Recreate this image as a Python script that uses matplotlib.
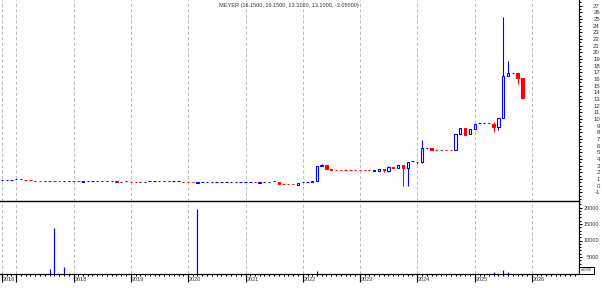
import matplotlib
matplotlib.use("Agg")
import matplotlib.pyplot as plt
import matplotlib.dates as mdates
import matplotlib.transforms as mtransforms
from matplotlib.ticker import FixedLocator, MultipleLocator
from matplotlib.patches import Rectangle
import pandas as pd

plt.rcParams["font.family"] = ["Liberation Sans", "DejaVu Sans"]
plt.rcParams["lines.scale_dashes"] = False
plt.rcParams["axes.unicode_minus"] = False

title = "MEYER (16.1500, 16.1500, 13.3100, 13.1000, -3.05000)"
dates = pd.date_range("2016-10-01", periods=110, freq="MS")

opens = [0.80, 0.80, 0.80, 0.95, 0.95, 0.80, 0.80, 0.66, 0.66, 0.68,
         0.66, 0.66, 0.66, 0.68, 0.68, 0.66, 0.66, 0.48, 0.68, 0.68,
         0.68, 0.68, 0.68, 0.68, 0.68, 0.50, 0.72, 0.50, 0.50, 0.52,
         0.60, 0.66, 0.66, 0.66, 0.66, 0.66, 0.66, 0.66, 0.50, 0.50,
         0.50, 0.38, 0.50, 0.50, 0.50, 0.50, 0.50, 0.50, 0.50, 0.50,
         0.50, 0.50, 0.50, 0.48, 0.36, 0.50, 0.50, 0.66, 0.60, 0.20,
         0.20, 0.20, 0.15, 0.50, 0.50, 0.50, 0.66, 2.90, 3.05, 2.45,
         2.30, 2.30, 2.30, 2.30, 2.30, 2.30, 2.30, 2.30, 2.15, 2.15,
         2.45, 2.25, 2.85, 2.70, 3.05, 2.60, 3.65, 3.55, 3.50, 5.65,
         5.60, 5.30, 5.30, 5.30, 5.30, 5.30, 7.70, 8.60, 7.70, 8.45,
         9.35, 9.35, 9.35, 9.25, 8.75, 10.10, 16.50, 16.90, 16.85, 16.15]
highs = [0.80, 0.80, 0.80, 0.95, 0.95, 0.80, 0.80, 0.66, 0.66, 0.68,
         0.66, 0.66, 0.66, 0.68, 0.68, 0.66, 0.66, 0.68, 0.68, 0.68,
         0.68, 0.68, 0.68, 0.68, 0.68, 0.50, 0.72, 0.50, 0.50, 0.52,
         0.60, 0.66, 0.66, 0.66, 0.66, 0.66, 0.66, 0.66, 0.50, 0.50,
         0.50, 0.50, 0.50, 0.50, 0.50, 0.50, 0.50, 0.50, 0.50, 0.50,
         0.50, 0.50, 0.50, 0.48, 0.50, 0.50, 0.50, 0.66, 0.60, 0.20,
         0.20, 0.20, 0.40, 0.50, 0.50, 0.66, 2.90, 3.20, 3.05, 2.45,
         2.30, 2.30, 2.30, 2.30, 2.30, 2.30, 2.30, 2.30, 2.35, 2.45,
         2.45, 3.00, 2.85, 3.05, 3.10, 3.60, 3.65, 3.55, 6.85, 5.65,
         5.60, 5.30, 5.30, 5.30, 5.30, 7.70, 8.60, 8.60, 8.45, 9.25,
         9.35, 9.35, 9.35, 9.60, 10.10, 25.30, 18.70, 16.90, 16.85, 16.15]
lows = [0.80, 0.80, 0.80, 0.95, 0.95, 0.80, 0.80, 0.66, 0.66, 0.68,
        0.66, 0.66, 0.66, 0.68, 0.68, 0.66, 0.66, 0.48, 0.68, 0.68,
        0.68, 0.68, 0.68, 0.68, 0.48, 0.50, 0.72, 0.50, 0.50, 0.52,
        0.60, 0.66, 0.66, 0.66, 0.66, 0.66, 0.66, 0.66, 0.50, 0.50,
        0.50, 0.38, 0.50, 0.50, 0.50, 0.50, 0.50, 0.50, 0.50, 0.50,
        0.50, 0.50, 0.50, 0.48, 0.36, 0.50, 0.50, 0.66, 0.20, 0.20,
        0.20, 0.20, 0.15, 0.50, 0.50, 0.50, 0.66, 2.90, 2.45, 2.30,
        2.30, 2.30, 2.30, 2.30, 2.30, 2.30, 2.30, 2.30, 2.15, 2.15,
        2.00, 2.10, 2.65, 2.70, 0.00, 0.00, 3.65, 3.25, 3.45, 5.65,
        5.30, 5.30, 5.30, 5.30, 5.30, 5.30, 7.70, 7.65, 7.70, 8.45,
        9.35, 9.35, 9.35, 8.10, 8.35, 10.10, 16.40, 16.90, 15.25, 13.10]
closes = [0.80, 0.80, 0.80, 0.95, 0.95, 0.80, 0.80, 0.66, 0.66, 0.68,
          0.66, 0.66, 0.66, 0.68, 0.68, 0.66, 0.66, 0.68, 0.68, 0.68,
          0.68, 0.68, 0.68, 0.68, 0.48, 0.50, 0.72, 0.50, 0.50, 0.52,
          0.60, 0.66, 0.66, 0.66, 0.66, 0.66, 0.66, 0.66, 0.50, 0.50,
          0.50, 0.50, 0.50, 0.50, 0.50, 0.50, 0.50, 0.50, 0.50, 0.50,
          0.50, 0.50, 0.50, 0.48, 0.50, 0.50, 0.50, 0.66, 0.20, 0.20,
          0.20, 0.20, 0.40, 0.50, 0.50, 0.66, 2.90, 3.10, 2.45, 2.30,
          2.30, 2.30, 2.30, 2.30, 2.30, 2.30, 2.30, 2.30, 2.35, 2.45,
          2.35, 2.85, 2.65, 3.05, 2.60, 3.50, 3.65, 3.50, 5.60, 5.65,
          5.30, 5.30, 5.30, 5.30, 5.30, 7.70, 8.60, 7.65, 8.45, 9.25,
          9.35, 9.35, 9.35, 8.75, 10.10, 16.50, 16.85, 16.90, 16.15, 13.10]
volumes = [0, 0, 0, 0, 0, 0, 0, 0, 0, 0,
           1400, 13900, 0, 2000, 0, 0, 0, 0, 0, 0,
           0, 0, 0, 0, 0, 0, 0, 0, 0, 0,
           0, 0, 0, 0, 0, 0, 0, 0, 0, 0,
           0, 19600, 0, 0, 0, 0, 0, 0, 0, 0,
           0, 0, 0, 0, 0, 0, 0, 0, 0, 0,
           0, 0, 0, 0, 0, 0, 800, 0, 0, 0,
           0, 0, 0, 0, 0, 0, 0, 0, 0, 0,
           0, 0, 0, 0, 0, 0, 0, 0, 0, 0,
           0, 0, 0, 0, 0, 0, 0, 0, 0, 0,
           0, 0, 0, 400, 0, 1000, 500, 0, 0, 0]

year_ticks = ["2016-10-01", "2017-01-01", "2018-01-01", "2019-01-01", "2020-01-01",
              "2021-01-01", "2022-01-01", "2023-01-01", "2024-01-01", "2025-01-01",
              "2026-01-01"]
year_labels = ["2016", "", "2018", "2019", "2020", "2021", "2022", "2023", "2024",
               "2025", "2026"]
price_ticks = list(range(-1, 28))
vol_ticks = [5000, 10000, 15000, 20000]

BLUE = "#0000ff"
RED = "#ff0000"
W, H = 602, 288
PX = 0.72  # one pixel in points

fig = plt.figure(figsize=(W / 100, H / 100), dpi=100)
right = 579.3 / W
axp = fig.add_axes([0, (H - 201) / H, right, 201 / H])
axv = fig.add_axes([0, (H - 273.5) / H, right, 72.5 / H], sharex=axp)

x = mdates.date2num(dates)
ref = mdates.date2num(pd.Timestamp("2017-01-01"))
pxday = 57.3 / 365.25
axp.set_xlim(ref - 16.3 / pxday, ref + (579.3 - 16.3) / pxday)
axp.set_ylim((185.7 - 201) / 6.67, 185.7 / 6.67)
axv.set_ylim(0, 72.5 / 16.5 * 5000)

width = 2.3 / pxday
prev_col = BLUE
prev_c = None
for xi, o, h, l, c in zip(x, opens, highs, lows, closes):
    if c > o:
        col = BLUE
    elif c < o:
        col = RED
    elif prev_c is not None and c > prev_c:
        col = BLUE
    elif prev_c is not None and c < prev_c:
        col = RED
    else:
        col = prev_col
    prev_col, prev_c = col, c
    axp.vlines(xi, l, h, color=col, lw=1.1 * PX, zorder=2)
    fc = "white" if col == BLUE else RED
    axp.bar(xi, c - o, bottom=o, width=width, facecolor=fc, edgecolor=col,
            linewidth=1.1 * PX, zorder=3)

axv.vlines(x, 0, volumes, color=BLUE, lw=1.2 * PX)

# grid lines
yt = [mdates.date2num(pd.Timestamp(d)) for d in year_ticks]
for ax in (axp, axv):
    for t in yt:
        ax.axvline(t, color="#bdbdbd", lw=1.0 * PX, linestyle=(0, (2.4, 1.6)), zorder=0)

# spines
for ax in (axp, axv):
    ax.spines["left"].set_visible(False)
    ax.spines["right"].set_linewidth(1.2 * PX)
axp.spines["top"].set_visible(False)
axp.spines["bottom"].set_visible(False)
axv.spines["top"].set_linewidth(1.4 * PX)
axv.spines["bottom"].set_linewidth(1.2 * PX)

# price axis
axp.yaxis.tick_right()
axp.yaxis.set_major_locator(FixedLocator(price_ticks))
axp.yaxis.set_minor_locator(MultipleLocator(0.5))
axp.tick_params(axis="y", which="major", direction="out", length=3.3 * PX, width=PX,
                labelsize=4.3, pad=(20.5 - 3.3) * PX, labelcolor="#333333")
axp.tick_params(axis="y", which="minor", direction="out", length=1.8 * PX, width=PX)
for lab in axp.get_yticklabels():
    lab.set_horizontalalignment("right")
axp.tick_params(axis="x", which="both", bottom=False, labelbottom=False)

# volume axis
axv.yaxis.tick_right()
axv.yaxis.set_major_locator(FixedLocator(vol_ticks))
axv.yaxis.set_minor_locator(MultipleLocator(1000))
axv.tick_params(axis="y", which="major", direction="out", length=3.3 * PX, width=PX,
                labelsize=4.0, pad=(20.0 - 3.3) * PX, labelcolor="#333333")
axv.tick_params(axis="y", which="minor", direction="out", length=1.7 * PX, width=PX)
for lab in axv.get_yticklabels():
    lab.set_horizontalalignment("right")

axv.xaxis.set_major_locator(FixedLocator(yt))
axv.xaxis.set_minor_locator(mdates.MonthLocator())
axv.tick_params(axis="x", which="major", direction="out", length=8.3 * PX, width=1.2 * PX,
                labelbottom=False)
axv.tick_params(axis="x", which="minor", direction="out", length=2.3 * PX, width=PX)

tr = mtransforms.blended_transform_factory(axv.transData, fig.transFigure)
for t, lab in zip(yt, year_labels):
    axv.text(t + 0.8 / pxday, 1 - 279.3 / H, lab, transform=tr, ha="left", va="center",
             fontsize=4.0, color="#333333", clip_on=False)

# x1000 box
box = Rectangle((579.3 / W, 1 - 273.5 / H), (594 - 579.3) / W, 6.5 / H,
                transform=fig.transFigure, facecolor="white", edgecolor="black",
                linewidth=1.0 * PX, zorder=5)
fig.patches.append(box)
fig.text(586.6 / W, 1 - 270.3 / H, "x1000", ha="center", va="center", fontsize=3.0,
         color="#333333", zorder=6)

fig.text(288.5 / W, 1 - 5.2 / H, title, ha="center", va="center", fontsize=4.0,
         color="#333333")

fig.savefig("out.png", dpi=100)
